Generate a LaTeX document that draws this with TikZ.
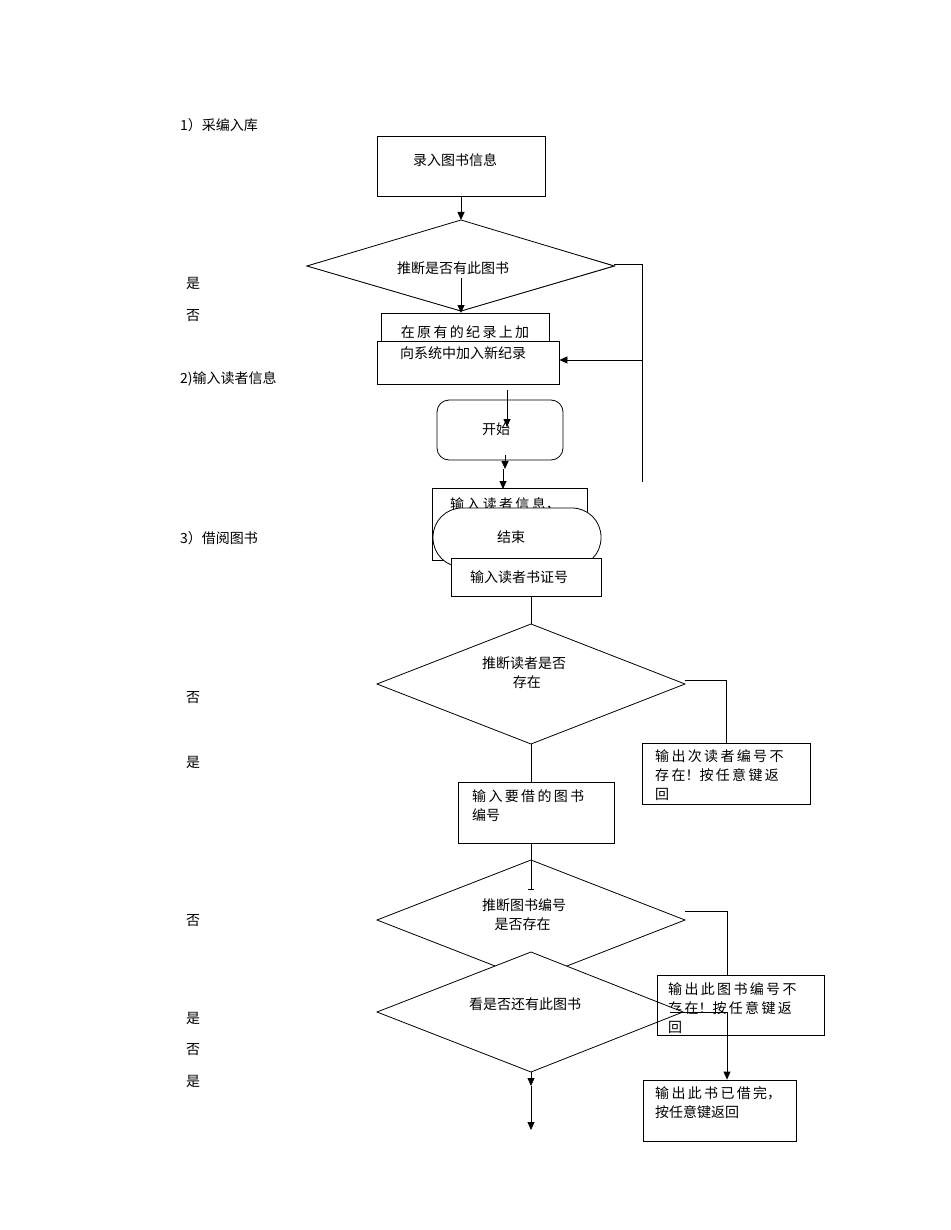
\documentclass[tikz,border=0pt]{standalone}
\usepackage{fontspec}
\setmainfont{Noto Sans CJK SC}
\usetikzlibrary{arrows.meta,shapes.geometric}
\begin{document}
\begin{tikzpicture}[x=1pt,y=-1pt,font=\fontsize{14}{19}\selectfont,
  box/.style={draw,thick,fill=white,inner sep=0},
  dia/.style={draw,thick,fill=white,diamond,aspect=2.5,inner sep=0},
  txt/.style={inner sep=0,align=left,anchor=north west},
  arr/.style={thick,-{Triangle[length=8pt,width=7pt]}},
  ln/.style={thick}]
\useasboundingbox (0,0) rectangle (950,1230);
% left labels
\node[txt,anchor=west] (l1) at (180,125) {1）采编入库};
\node[txt,anchor=west] (l2) at (186,283) {是};
\node[txt,anchor=west] (l3) at (186,316) {否};
\node[txt,anchor=west] (l4) at (180,379) {2)输入读者信息};
\node[txt,anchor=west] (l5) at (180,538) {3）借阅图书};
\node[txt,anchor=west] (l6) at (186,698) {否};
\node[txt,anchor=west] (l7) at (186,762) {是};
\node[txt,anchor=west] (l8) at (186,921) {否};
\node[txt,anchor=west] (l9) at (186,1018) {是};
\node[txt,anchor=west] (l10) at (186,1050) {否};
\node[txt,anchor=west] (l11) at (186,1081) {是};
% part 1
\node[box,minimum width=168,minimum height=60] (b1) at (461,166) {};
\node[txt,anchor=center] (t1) at (455,160) {录入图书信息};
\node[draw,thick,fill=white,minimum width=307,minimum height=90,diamond,inner sep=0,shape aspect=3.4] (d1) at (461,266) {};
\path[draw,thick,fill=white] (307,266) -- (461,220) -- (614,266) -- (461,311) -- cycle;
\node[txt,anchor=center] (t2) at (453,268) {推断是否有此图书};
\draw[arr] (b1.south) -- (461,220);
\coordinate (c1) at (461,278);
\node[box,minimum width=168,minimum height=34] (b2) at (465,330) {};
\draw[arr] (c1) -- (461,313);
\begin{scope}\clip (381,313) rectangle (549,341);
\node[txt,anchor=center] (t3) at (465,332) {在\,原\,有\,的\,纪\,录\,上\,加};
\end{scope}
\node[box,minimum width=182,minimum height=43] (b3) at (468,362.5) {};
\node[txt,anchor=center] (t4) at (463,353) {向系统中加入新纪录};
\coordinate (r1) at (614,264);
\coordinate (r2) at (642,264);
\coordinate (r3) at (642,482);
\draw[ln] (r1) -- (r2) -- (r3);
\coordinate (r4) at (642,360);
\draw[arr] (r4) -- (b3.east |- r4);
% start
\node[box,rounded corners=12pt,minimum width=126,minimum height=60] (s1) at (500,430) {};
\node[txt,anchor=center] (t5) at (496,429) {开始};
\draw[arr] (507,390) -- (507,427);
\draw[arr] (505,455) -- (505,469);
\draw[arr] (503,469) -- (503,489);
\node[box,minimum width=155,minimum height=72] (b4) at (509.5,524) {};
\node[txt,anchor=center] (t6) at (505,504) {输\,入\,读\,者\,信\,息，};
\node[box,rounded corners=29pt,minimum width=168,minimum height=59] (e1) at (517,537.5) {};
\node[txt,anchor=center] (t7) at (511,537) {结束};
\node[box,minimum width=150,minimum height=38] (b5) at (526,577) {};
\node[txt,anchor=center] (t8) at (519,577) {输入读者书证号};
% part 3
\path[draw,thick,fill=white] (377,684) -- (531,624) -- (685,684) -- (531,744) -- cycle;
\coordinate (d2n) at (531,624);
\draw[ln] (b5.south -| d2n) -- (d2n);
\node[txt,anchor=center] (t9) at (524,673) {推断读者是否\\\hspace*{2.2em}存在};
\coordinate (a1) at (685,680);
\coordinate (a2) at (726,680);
\node[box,minimum width=168,minimum height=61] (b6) at (726,773.5) {};
\draw[ln] (a1) -- (a2) -- (b6.north);
\begin{scope}\clip (642,743) rectangle (810,804);
\node[txt] (t10) at (655,749) {输\,出\,次\,读\,者\,编\,号\,不\\存\,在！按\,任\,意\,键\,返\\回};
\end{scope}
\node[box,minimum width=156,minimum height=61] (b7) at (536,812.5) {};
\node[txt] (t11) at (472,789) {输\,入\,要\,借\,的\,图\,书\\编号};
\draw[ln] (531,744) -- (b7.north -| d2n);
\path[draw,thick,fill=white] (377,920) -- (531,860) -- (685,920) -- (531,980) -- cycle;
\draw[ln,-|] (b7.south -| d2n) -- (531,890);
\node[txt,anchor=center] (t12) at (524,915) {推断图书编号\\\hspace*{0.9em}是否存在};
\node[box,minimum width=167,minimum height=60] (b8) at (740.5,1005) {};
\node[txt] (t13) at (668,982) {输\,出\,此\,图\,书\,编\,号\,不\\存\,在！按\,任\,意\,键\,返\\回};
\coordinate (a3) at (685,911);
\coordinate (a4) at (727,911);
\draw[ln] (a3) -- (a4) -- (b8.north -| a4);
\begin{scope}\clip (600,975) rectangle (824,1035);
\end{scope}
\path[draw,thick,fill=white] (377,1012) -- (531,952) -- (683,1012) -- (531,1072) -- cycle;
\node[txt,anchor=center] (t14) at (525,1004) {看是否还有此图书};
\node[box,fill=none,minimum width=167,minimum height=60] (b8b) at (740.5,1005) {};
\node[box,minimum width=153,minimum height=61] (b9) at (719.5,1110.5) {};
\node[txt] (t15) at (655,1086) {输\,出\,此\,书\,已\,借\,完，\\按任意键返回};
\coordinate (a5) at (670,1012);
\coordinate (a6) at (727,1012);
\draw[ln] (a5) -- (a6);
\draw[arr] (a6) -- (b9.north -| a6);
\coordinate (a7) at (531,1072);
\coordinate (a8) at (531,1086);
\coordinate (a9) at (531,1130);
\draw[arr] (a7) -- (a8);
\draw[arr] (a8) -- (a9);
\end{tikzpicture}
\end{document}
